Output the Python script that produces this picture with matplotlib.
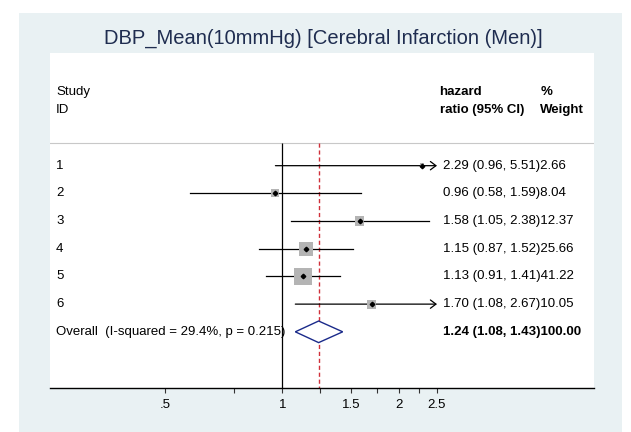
import matplotlib
matplotlib.use('Agg')
import matplotlib.pyplot as plt
from matplotlib.patches import Rectangle, Polygon
from matplotlib.ticker import NullFormatter

plt.rcParams['font.family'] = ['Liberation Sans', 'DejaVu Sans']

# data
study_ids = ['1', '2', '3', '4', '5', '6']
hr = [2.29, 0.96, 1.58, 1.15, 1.13, 1.70]
ci_lo = [0.96, 0.58, 1.05, 0.87, 0.91, 1.08]
ci_hi = [5.51, 1.59, 2.38, 1.52, 1.41, 2.67]
weight = [2.66, 8.04, 12.37, 25.66, 41.22, 10.05]

overall_hr = 1.24
overall_lo = 1.08
overall_hi = 1.43
overall_label = 'Overall  (I-squared = 29.4%, p = 0.215)'

tick_vals = [0.5, 1, 1.5, 2, 2.5]
tick_labels = ['.5', '1', '1.5', '2', '2.5']
minor_ticks = [0.75, 1.25, 1.75, 2.25]
x_clip = 2.5

title = 'DBP_Mean(10mmHg) [Cerebral Infarction (Men)]'

fs = 9.5
bg = '#e9f1f3'

fig = plt.figure(figsize=(6.31, 4.32), dpi=100)
fig.patch.set_facecolor('white')
# light panel behind the plot region
fig.add_artist(Rectangle((19 / 631, 0), 603 / 631, 419 / 432,
                         transform=fig.transFigure, facecolor=bg,
                         edgecolor='none', zorder=-5))

ax = fig.add_axes([50 / 631, 43.7 / 432, 544 / 631, 335.6 / 432])
ax.set_zorder(2)
ax.set_facecolor('white')
ax.set_xscale('log')
ax.set_xlim(0.2525, 6.338)
ax.set_ylim(9.04, -3.08)

for s in ['top', 'right', 'left']:
    ax.spines[s].set_visible(False)
ax.spines['bottom'].set_linewidth(1.0)
ax.set_yticks([])

ax.set_xticks(tick_vals)
ax.set_xticklabels(tick_labels, fontsize=fs)
ax.set_xticks(minor_ticks, minor=True)
ax.xaxis.set_minor_formatter(NullFormatter())
ax.tick_params(axis='x', which='both', length=3.8, width=0.8, color='#333333', pad=4)

# separator and reference lines
ax.axhline(0.19, color='#c8c8c8', lw=0.8, zorder=1)
ax.vlines(1, 0.19, 9.04, color='black', lw=0.9, zorder=2)
ax.vlines(overall_hr, 0.19, 9.04, color='#d0303a', lw=1.0,
          linestyles=(0, (3, 2)), zorder=2)

rows = list(range(1, len(study_ids) + 1))
for r, h, lo, hi, w in zip(rows, hr, ci_lo, ci_hi, weight):
    if hi > x_clip:
        ax.annotate('', xy=(x_clip, r), xytext=(lo, r),
                    arrowprops=dict(arrowstyle='->,head_length=0.4,head_width=0.3',
                                    lw=0.9, color='black', shrinkA=0, shrinkB=0),
                    zorder=3)
    else:
        ax.plot([lo, hi], [r, r], color='black', lw=0.9, zorder=3)
ax.scatter(hr, rows, s=[4.0 * w for w in weight], marker='s',
           color='#b4b4b4', edgecolors='none', zorder=4)
ax.plot(hr, rows, 'D', color='black', markersize=2.3, zorder=5)

# overall diamond
oy = len(study_ids) + 1
dh = 0.39
ax.add_patch(Polygon([(overall_lo, oy), (overall_hr, oy - dh),
                      (overall_hi, oy), (overall_hr, oy + dh)],
                     closed=True, facecolor='white', edgecolor='#1a2a8a',
                     lw=1.0, zorder=4))

# text columns
tr = ax.get_yaxis_transform()
x_id = 0.011
x_ci = 0.722
x_hd = 0.716
x_w = 0.901
ax.text(x_id, -1.67, 'Study', transform=tr, fontsize=fs, va='center')
ax.text(x_id, -1.01, 'ID', transform=tr, fontsize=fs, va='center')
ax.text(x_hd, -1.67, 'hazard', transform=tr, fontsize=fs, va='center', weight='bold')
ax.text(x_hd, -1.01, 'ratio (95% CI)', transform=tr, fontsize=fs, va='center', weight='bold')
ax.text(x_w, -1.67, '%', transform=tr, fontsize=fs, va='center', weight='bold')
ax.text(x_w, -1.01, 'Weight', transform=tr, fontsize=fs, va='center', weight='bold')

for r, sid, h, lo, hi, w in zip(rows, study_ids, hr, ci_lo, ci_hi, weight):
    ax.text(x_id, r, sid, transform=tr, fontsize=fs, va='center')
    ax.text(x_ci, r, f'{h:.2f} ({lo:.2f}, {hi:.2f}){w:.2f}', transform=tr,
            fontsize=fs, va='center')

ax.text(x_id, oy, overall_label, transform=tr, fontsize=fs, va='center')
ax.text(x_ci, oy, f'{overall_hr:.2f} ({overall_lo:.2f}, {overall_hi:.2f}){sum(weight):.2f}',
        transform=tr, fontsize=fs, va='center', weight='bold')

fig.text(323 / 631, 1 - 38.3 / 432, title, fontsize=14.5, color='#1f2d50',
         ha='center', va='center')

fig.savefig('out.png', dpi=100)
